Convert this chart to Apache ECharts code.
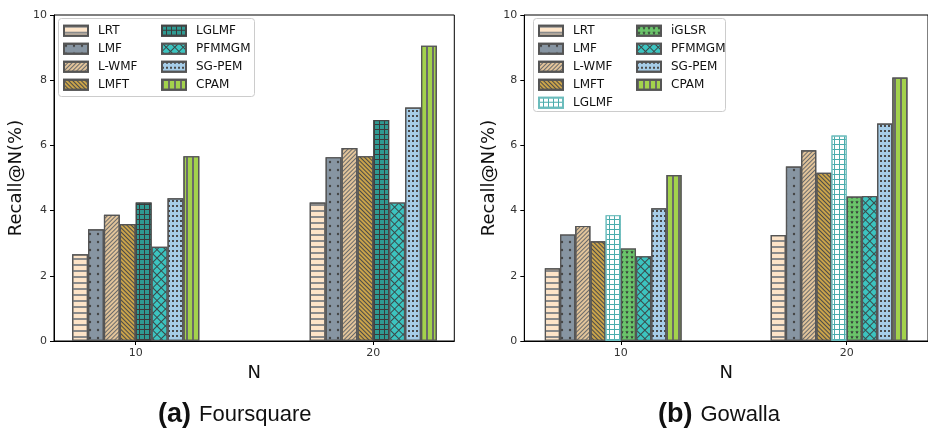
<!DOCTYPE html>
<html>
<head>
<meta charset="utf-8">
<script src="https://cdn.jsdelivr.net/npm/echarts@6/dist/echarts.min.js"></script>
<style>
html,body{margin:0;padding:0;background:#fff;}
#chart{width:928px;height:428px;}
</style>
</head>
<body>
<div id="chart"></div>
<script>
// ---- data ----
const nValues = [10, 20];
const methodsA = ['LRT', 'LMF', 'L-WMF', 'LMFT', 'LGLMF', 'PFMMGM', 'SG-PEM', 'CPAM'];
const methodsB = ['LRT', 'LMF', 'L-WMF', 'LMFT', 'LGLMF', 'iGLSR', 'PFMMGM', 'SG-PEM', 'CPAM'];
const foursquareN10 = [2.66, 3.43, 3.87, 3.59, 4.25, 2.89, 4.38, 5.67];
const foursquareN20 = [4.25, 5.64, 5.92, 5.67, 6.78, 4.25, 7.16, 9.06];
const gowallaN10 = [2.23, 3.27, 3.53, 3.06, 3.86, 2.84, 2.60, 4.07, 5.09];
const gowallaN20 = [3.25, 5.35, 5.85, 5.16, 6.30, 4.43, 4.45, 6.67, 8.08];
const yTicks = [0, 2, 4, 6, 8, 10];

// ---- styles ----
const STAR = 'path://M50,0 L61,35 L98,35 L68,57 L79,91 L50,70 L21,91 L32,57 L2,35 L39,35 Z';
function styleFor(name, panel) {
  const b = {borderColor: '#555', borderWidth: 1.2};
  switch (name) {
    case 'LRT': return Object.assign(b, {color: '#fde4c8', decal: {symbol: 'rect', symbolSize: 1, color: '#8a8a8a', dashArrayX: [1, 0], dashArrayY: [1.4, 3.3]}});
    case 'LMF': return Object.assign(b, {color: '#8795a2', decal: {symbol: 'circle', symbolSize: 0.6, color: '#454545', dashArrayX: [4, 4], dashArrayY: [4, 3.3]}});
    case 'L-WMF': return Object.assign(b, {color: '#e2c49a', decal: {symbol: 'rect', symbolSize: 1, color: '#6a6a6a', dashArrayX: [1, 0], dashArrayY: [0.9, 2], rotation: -Math.PI / 4}});
    case 'LMFT': return Object.assign(b, {color: '#c9a34a', decal: {symbol: 'rect', symbolSize: 1, color: '#4a4a4a', dashArrayX: [1, 0], dashArrayY: [0.9, 2], rotation: Math.PI / 4}});
    case 'LGLMF':
      if (panel === 'a') return Object.assign(b, {color: '#3a3a3a', borderColor: '#444', decal: {symbol: 'rect', symbolSize: 1, color: '#2f9a92', dashArrayX: [3.4, 1], dashArrayY: [3.4, 1]}});
      return Object.assign(b, {color: '#4aacac', borderColor: '#6bbcbc', decal: {symbol: 'rect', symbolSize: 1, color: '#ffffff', dashArrayX: [3.6, 1], dashArrayY: [3.6, 1]}});
    case 'iGLSR': return Object.assign(b, {color: '#6ac46a', decal: {symbol: STAR, symbolSize: 0.9, color: '#333', dashArrayX: [4, 0.8], dashArrayY: [4, 0.8]}});
    case 'PFMMGM': return Object.assign(b, {color: '#3a4a4a', decal: {symbol: 'rect', symbolSize: 1, color: '#3cc4c0', dashArrayX: [4.4, 0.9], dashArrayY: [4.4, 0.9], rotation: Math.PI / 4}});
    case 'SG-PEM': return Object.assign(b, {color: '#a6cde8', decal: {symbol: 'rect', symbolSize: 1, color: '#4a4a4a', dashArrayX: [1.3, 1.7], dashArrayY: [1.3, 2.4]}});
    case 'CPAM': return Object.assign(b, {color: '#a3d24c', decal: {symbol: 'rect', symbolSize: 1, color: '#6a6a6a', dashArrayX: [1.4, 3.6], dashArrayY: [1, 0]}});
  }
}

const FONT = 'DejaVu Sans';
function makeAxes(gi, min, max, yGap) {
  const x = {
    type: 'value', gridIndex: gi, min: min, max: max,
    name: 'N', nameLocation: 'middle', nameGap: 23,
    nameTextStyle: {fontFamily: FONT, fontSize: 18, color: '#111'},
    axisLine: {show: true, lineStyle: {color: '#000', width: 1}},
    axisTick: {show: true, length: 4, inside: false, lineStyle: {color: '#000'}, customValues: nValues},
    axisLabel: {fontFamily: FONT, fontSize: 11, color: '#333', margin: 7, customValues: nValues},
    splitLine: {show: false}
  };
  const y = {
    type: 'value', gridIndex: gi, min: 0, max: 10, interval: 2,
    name: 'Recall@N(%)', nameLocation: 'middle', nameGap: yGap, nameRotate: 90,
    nameTextStyle: {fontFamily: FONT, fontSize: 18, color: '#111'},
    axisLine: {show: true, lineStyle: {color: '#000', width: 1}},
    axisTick: {show: true, length: 4, lineStyle: {color: '#000'}},
    axisLabel: {fontFamily: FONT, fontSize: 11, color: '#333', margin: 7,
      formatter: v => (yTicks.indexOf(v) >= 0 ? String(v) : '')},
    splitLine: {show: false}
  };
  return [x, y];
}
const [xa, ya] = makeAxes(0, 6.561, 23.409, 29);
const [xb, yb] = makeAxes(1, 5.727, 23.6, 26);

const series = [];
methodsA.forEach((m, i) => {
  series.push({
    type: 'bar', name: m, xAxisIndex: 0, yAxisIndex: 0,
    barWidth: 15.9, barGap: '0%',
    data: nValues.map((n, k) => [n, [foursquareN10, foursquareN20][k][i]]),
    itemStyle: styleFor(m, 'a'), emphasis: {disabled: true}
  });
});
methodsB.forEach((m, i) => {
  series.push({
    type: 'bar', name: m + ' ', xAxisIndex: 1, yAxisIndex: 1,
    barWidth: 15.2, barGap: '0%',
    data: nValues.map((n, k) => [n, [gowallaN10, gowallaN20][k][i]]),
    itemStyle: styleFor(m, 'b'), emphasis: {disabled: true}
  });
});
// empty slot after the 9 Gowalla bars (the groups sit left of the tick, as in the figure)
series.push({
  type: 'bar', name: '_slot', xAxisIndex: 1, yAxisIndex: 1,
  barWidth: 15.2, barGap: '0%', data: nValues.map(n => [n, null]),
  itemStyle: {color: 'rgba(0,0,0,0)'}, silent: true
});

function legend(names, left, top) {
  return {
    data: names, left: left, top: top, orient: 'vertical', icon: 'rect', padding: 0,
    itemWidth: 24, itemHeight: 10, itemGap: 6, z: 10, selectedMode: false,
    formatter: n => n.trim(),
    textStyle: {fontFamily: FONT, fontSize: 12, color: '#111', lineHeight: 12, padding: [0, 0, 0, 5]}
  };
}

const richTitle = {
  a: {fontFamily: 'Liberation Sans', fontWeight: 'bold', fontSize: 27, color: '#111'},
  s: {fontFamily: 'Liberation Sans', fontSize: 21, width: 8},
  b: {fontFamily: 'Liberation Sans', fontWeight: 'normal', fontSize: 22, color: '#111'}
};

const option = {
  animation: false,
  backgroundColor: '#fff',
  grid: [
    {left: 54, top: 15, width: 400.3, height: 326, show: true, borderColor: '#000', borderWidth: 1},
    {left: 524.3, top: 15, width: 405.7, height: 326, show: true, borderColor: '#000', borderWidth: 1}
  ],
  xAxis: [xa, xb],
  yAxis: [ya, yb],
  legend: [
    legend(methodsA.slice(0, 4), 63, 24.7),
    legend(methodsA.slice(4), 161, 24.7),
    legend(methodsB.slice(0, 5).map(m => m + ' '), 538, 24.7),
    legend(methodsB.slice(5).map(m => m + ' '), 636, 24.7)
  ],
  graphic: [
    {type: 'rect', z: 1, shape: {x: 58.5, y: 18.5, width: 196, height: 78, r: 3}, style: {fill: 'rgba(255,255,255,0.85)', stroke: '#cccccc', lineWidth: 1}},
    {type: 'rect', z: 1, shape: {x: 533.5, y: 18.5, width: 192, height: 93, r: 3}, style: {fill: 'rgba(255,255,255,0.85)', stroke: '#cccccc', lineWidth: 1}}
  ],
  title: [
    {text: '{a|(a)}{s| }{b|Foursquare}', left: 153, top: 396, textStyle: {rich: richTitle}},
    {text: '{a|(b)}{s| }{b|Gowalla}', left: 653, top: 396, textStyle: {rich: richTitle}}
  ],
  series: series
};
const chart = echarts.init(document.getElementById('chart'), null, {renderer: 'canvas'});
chart.setOption(option);
</script>
</body>
</html>
